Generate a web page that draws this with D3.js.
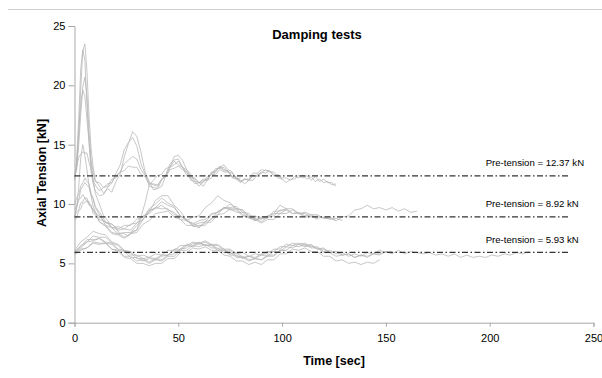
<!DOCTYPE html>
<html>
<head>
<meta charset="utf-8">
<script src="https://cdn.jsdelivr.net/npm/d3@7"></script>
<style>
  html, body { margin: 0; padding: 0; background: #fff; }
  svg { display: block; font-family: "Liberation Sans", Arial, sans-serif; }
</style>
</head>
<body>
<div id="chart"></div>
<script>
// pre-tension reference lines
const preTension = [12.37, 8.92, 5.93];
const preTensionLabels = ["Pre-tension = 12.37 kN", "Pre-tension = 8.92 kN", "Pre-tension = 5.93 kN"];
const xTicks = [0, 50, 100, 150, 200, 250];
const yTicks = [0, 5, 10, 15, 20, 25];

// high pre-tension tests (time in sec)
const tHigh = [0, 1, 2, 3, 4, 5, 6, 7, 8, 9, 10,
  12, 14, 16, 18, 20, 22, 24, 26, 28, 30,
  32, 34, 36, 38, 40, 42, 44, 46, 48, 50,
  52, 54, 56, 58, 60, 62, 64, 66, 68, 70,
  72, 74, 76, 78, 80, 82, 84, 86, 88, 90,
  92, 94, 96, 98, 100, 102, 104, 106, 108, 110,
  112, 114, 116, 118, 120, 122, 124, 126];
const high1 = [12.2, 13.1, 15.6, 19.7, 22.9, 23.5, 21.2, 17.4, 14.7, 13.1, 12.0,
  11.5, 10.9, 11.3, 11.0, 11.9, 12.5, 14.0, 15.1, 16.1, 15.7,
  14.4, 12.7, 11.9, 11.2, 11.3, 11.5, 12.4, 13.1, 14.0, 14.1,
  13.7, 12.9, 12.5, 11.9, 11.8, 11.5, 12.0, 12.2, 12.8, 13.1,
  13.3, 12.9, 12.7, 12.1, 12.0, 11.7, 12.0, 12.0, 12.5, 12.6,
  12.9, 12.7, 12.7, 12.2, 12.1, 11.8, 12.1, 12.1, 12.4, 12.2,
  12.4, 12.0, 12.3, 11.9, 12.1, 11.8, 11.8, 11.5];
const high2 = [12.0, 13.6, 17.1, 21.4, 23.0, 22.1, 18.4, 15.1, 12.7, 11.7, 11.1,
  10.7, 10.8, 11.4, 11.8, 12.6, 13.3, 14.6, 15.2, 15.6, 14.9,
  13.4, 12.5, 11.5, 11.4, 11.3, 12.0, 12.5, 13.4, 13.7, 13.8,
  13.1, 12.7, 12.0, 11.9, 11.5, 11.9, 12.1, 12.7, 12.8, 13.2,
  12.9, 12.8, 12.2, 12.1, 11.8, 12.1, 12.1, 12.6, 12.6, 12.9,
  12.8, 12.8, 12.4, 12.4, 12.1];
const high3 = [12.3, 12.8, 14.9, 17.5, 19.9, 20.7, 19.1, 16.1, 13.7, 12.7, 11.9,
  11.8, 11.4, 11.7, 11.8, 12.4, 12.7, 13.4, 13.7, 14.0, 13.8,
  12.9, 12.4, 11.8, 11.6, 11.5, 12.1, 12.4, 13.1, 13.3, 13.6,
  13.1, 12.9, 12.3, 12.2, 11.8, 12.0, 12.0, 12.6, 12.7, 13.1,
  12.8, 12.8, 12.3, 12.3, 11.9, 12.1, 12.0, 12.4, 12.4, 12.7,
  12.6, 12.8, 12.4, 12.5, 12.2, 12.2, 12.0, 12.3, 12.2, 12.4,
  12.1, 12.3, 11.9, 12.1, 11.8, 11.9, 11.6, 11.7];
const high4 = [12.4, 13.1, 13.9, 14.2, 14.4, 14.3, 14.3, 13.5, 12.9, 12.0, 11.6,
  11.1, 11.4, 11.5, 12.1, 12.2, 12.7, 12.8, 13.2, 13.1, 13.1,
  12.5, 12.3, 11.7, 11.7, 11.6, 12.1, 12.3, 12.9, 13.0, 13.2,
  12.9, 12.7, 12.2, 12.1, 11.8, 12.1, 12.1, 12.5, 12.5, 12.9,
  12.7, 12.7, 12.3, 12.2, 11.9, 12.1, 12.0, 12.4, 12.3, 12.6];
const high5 = [12.1, 13.4, 16.1, 18.4, 19.6, 19.1, 17.1, 15.3, 13.4, 12.1, 10.9,
  10.0, 9.0, 8.6, 8.0, 7.9, 7.5, 7.5, 7.3, 7.7, 7.8,
  8.9, 10.1, 11.6, 12.0, 12.4, 12.5, 13.0, 13.1, 13.6, 13.3,
  13.1, 12.4, 12.2, 11.7, 11.8, 11.8, 12.3, 12.5, 13.0, 13.0,
  13.1, 12.7, 12.6, 12.1, 12.2];

// medium pre-tension tests
const tMid = [0, 1, 2, 3, 4, 5, 6, 7, 8, 9, 10,
  12, 15, 18, 21, 24, 27, 30, 33, 36, 39,
  42, 45, 48, 51, 54, 57, 60, 63, 66, 69,
  72, 75, 78, 81, 84, 87, 90, 93, 96, 99,
  102, 105, 108, 111, 114, 117, 120, 123, 126, 129,
  132, 135, 138, 141, 144, 147, 150, 153, 156, 159,
  162, 165];
const mid1 = [9.0, 9.7, 10.3, 11.2, 11.5, 11.8, 11.6, 11.4, 10.7, 10.4, 9.7,
  9.1, 8.2, 8.0, 7.5, 7.6, 7.6, 8.2, 8.7, 9.6, 10.0,
  10.5, 10.1, 9.8, 9.0, 8.7, 8.2, 8.4, 8.5, 9.1, 9.3,
  9.7, 9.6, 9.6, 9.1, 8.9, 8.6, 8.9, 8.9, 9.4, 9.4,
  9.6, 9.2, 9.2, 8.9, 9.0, 8.7];
const mid2 = [8.8, 9.6, 11.4, 13.9, 15.0, 14.1, 12.9, 11.5, 10.7, 9.8, 9.4,
  8.5, 8.1, 7.5, 7.4, 7.1, 7.5, 7.8, 8.7, 9.3, 10.3,
  10.7, 10.7, 9.9, 9.4, 8.6, 8.4, 8.1, 8.5, 8.7, 9.4,
  9.6, 10.0, 9.6, 9.5, 8.9, 8.8, 8.5, 8.9, 9.0, 9.5,
  9.5];
const mid3 = [9.5, 9.8, 10.4, 10.5, 10.8, 10.5, 10.5, 10.0, 9.9, 9.4, 9.3,
  8.7, 8.5, 8.0, 8.1, 7.9, 8.3, 8.4, 9.0, 9.2, 9.7,
  9.6, 9.6, 9.1, 9.0, 8.6, 8.9, 9.0, 9.7, 10.1, 10.7,
  10.3, 10.1, 9.6, 9.5, 9.0, 9.0, 8.7, 9.0, 9.2, 9.9,
  9.6, 9.6, 9.2, 9.3, 9.1, 9.1, 8.8, 8.9, 8.6, 8.9,
  9.0, 9.5, 9.6, 9.9, 9.6, 9.7, 9.5, 9.7, 9.4, 9.6,
  9.3, 9.4];
const mid4 = [8.9, 9.3, 9.5, 10.1, 10.2, 10.5, 10.2, 10.2, 9.7, 9.6, 9.2,
  9.0, 8.4, 8.3, 7.9, 8.2, 8.2, 8.7, 8.9, 9.5, 9.6,
  9.9, 9.5, 9.3, 8.7, 8.6, 8.3, 8.6, 8.7, 9.2, 9.3,
  9.7, 9.5, 9.5, 9.0, 8.9, 8.6, 8.8, 8.8, 9.2, 9.2,
  9.5, 9.2, 9.3, 9.0, 9.1, 8.8, 8.9, 8.7, 8.8, 8.6];
const mid5 = [10.0, 10.5, 10.8, 11.5, 11.8, 12.2, 11.9, 11.7, 10.9, 10.5, 9.8,
  9.3, 8.5, 8.3, 7.8, 7.9, 7.8, 8.4, 8.7, 9.4, 9.7,
  10.2, 9.9, 9.7, 9.0, 8.7, 8.1, 8.2, 8.2, 8.8, 9.1,
  9.7, 9.7, 9.8, 9.3, 9.2, 8.7, 8.8];
const mid6 = [8.6, 8.8, 9.4, 9.6, 10.1, 10.1, 10.3, 9.9, 9.8, 9.2, 9.1,
  8.5, 8.2, 7.6, 7.5, 7.2, 7.5, 7.6, 8.3, 8.6, 9.2,
  9.3, 9.4, 8.9, 8.7, 8.2, 8.2, 8.0, 8.4, 8.5, 9.1,
  9.2, 9.6, 9.3, 9.3, 8.8, 8.7, 8.4, 8.7, 8.7, 9.2,
  9.2, 9.5, 9.2, 9.2, 8.9, 9.0, 8.8, 8.8, 8.6];

// low pre-tension tests
const tLow = [0, 3, 6, 9, 12, 15, 18, 21, 24, 27,
  30, 33, 36, 39, 42, 45, 48, 51, 54, 57,
  60, 63, 66, 69, 72, 75, 78, 81, 84, 87,
  90, 93, 96, 99, 102, 105, 108, 111, 114, 117,
  120, 123, 126, 129, 132, 135, 138, 141, 144, 147,
  150, 153, 156, 159, 162, 165, 168, 171, 174, 177,
  180, 183, 186, 189, 192, 195, 198, 201, 204, 207,
  210, 213, 216, 219];
const low1 = [5.9, 6.3, 6.8, 6.9, 7.1, 6.8, 6.7, 6.2, 6.1, 5.7,
  5.7, 5.4, 5.5, 5.4, 5.7, 5.7, 6.1, 6.1, 6.5, 6.4,
  6.7, 6.5, 6.6, 6.2, 6.2, 5.8, 5.9, 5.5, 5.6, 5.4,
  5.7, 5.6, 6.0, 6.0, 6.4, 6.3, 6.6, 6.4, 6.5, 6.2,
  6.3, 5.9, 6.0, 5.7, 5.8, 5.5, 5.7, 5.5, 5.8, 5.7,
  6.0, 5.8, 6.1, 5.8, 6.0, 5.9, 5.8, 5.9, 5.7, 5.8,
  5.6, 5.8, 5.5, 5.7, 5.5, 5.6, 5.5, 5.7, 5.6, 5.8,
  5.7, 5.9, 5.8, 6.0];
const low2 = [6.1, 6.8, 7.2, 7.7, 7.5, 7.4, 6.8, 6.6, 6.1, 6.0,
  5.6, 5.7, 5.5, 5.8, 5.7, 6.1, 6.1, 6.5, 6.5, 6.8,
  6.7, 6.9, 6.6, 6.6, 6.2, 6.2, 5.8, 5.9, 5.6, 5.8,
  5.7, 6.0, 6.0, 6.4, 6.4, 6.7, 6.6, 6.7, 6.4, 6.4,
  6.0, 6.1, 5.8, 5.9, 5.6, 5.8, 5.6, 5.9, 5.8, 6.1,
  5.9, 6.0];
const low3 = [5.8, 6.2, 6.3, 6.8, 6.7, 6.7, 6.2, 6.0, 5.5, 5.4,
  5.0, 5.0, 4.8, 5.0, 5.0, 5.4, 5.4, 5.9, 5.9, 6.3,
  6.2, 6.4, 6.1, 6.1, 5.7, 5.6, 5.2, 5.2, 4.9, 5.1,
  4.9, 5.3, 5.3, 5.8, 5.8, 6.2, 6.1, 6.3, 6.0, 6.0,
  5.6, 5.6, 5.2, 5.3, 5.0, 5.1, 4.9, 5.1, 5.0, 5.3];
const low4 = [5.9, 6.5, 6.8, 7.3, 7.2, 7.2, 6.7, 6.5, 6.0, 5.9,
  5.4, 5.4, 5.1, 5.4, 5.3, 5.7, 5.8, 6.2, 6.3, 6.7,
  6.6, 6.8, 6.5, 6.5, 6.1, 6.1, 5.6, 5.6, 5.3, 5.4,
  5.3, 5.6, 5.6, 6.1, 6.1, 6.5, 6.4, 6.6, 6.3, 6.3,
  5.9, 5.9, 5.6, 5.7];
const low5 = [6.0, 6.4, 7.0, 7.0, 7.1, 6.7, 6.6, 6.1, 6.0, 5.5,
  5.5, 5.2, 5.4, 5.3, 5.6, 5.7, 6.2, 6.2, 6.6, 6.5,
  6.8, 6.5, 6.5, 6.1, 6.1, 5.7, 5.7, 5.4, 5.6, 5.5,
  5.8, 5.8, 6.2, 6.2, 6.6, 6.5, 6.7, 6.5, 6.6, 6.2,
  6.2, 5.9, 6.0, 5.7, 5.8, 5.5, 5.7, 5.6, 5.8, 5.8,
  6.0, 5.9];
const low6 = [5.7, 6.1, 6.3, 6.7, 6.6, 6.7, 6.2, 6.1, 5.6, 5.6,
  5.2, 5.3, 5.0, 5.3, 5.2, 5.6, 5.6, 6.1, 6.1, 6.5,
  6.4, 6.6, 6.3, 6.3, 5.9, 5.9, 5.5, 5.5, 5.2, 5.4,
  5.3, 5.7, 5.7, 6.1, 6.1];

const width = 602, height = 378;
const margin = {left: 74.5, right: 8.5, top: 26, bottom: 55.3};

const svg = d3.select("#chart").append("svg")
  .attr("width", width)
  .attr("height", height);

// thin frame line at the top of the picture
svg.append("line")
  .attr("x1", 8).attr("x2", width)
  .attr("y1", 9.5).attr("y2", 9.5)
  .attr("stroke", "#d0d0d0")
  .attr("stroke-width", 1);

const x = d3.scaleLinear().domain([0, 250]).range([margin.left, width - margin.right]);
const y = d3.scaleLinear().domain([0, 25]).range([height - margin.bottom, margin.top]);

// axes
const xAxis = svg.append("g")
  .attr("transform", "translate(0," + y(0) + ")")
  .call(d3.axisBottom(x).tickValues(xTicks).tickSize(4).tickPadding(8));
const yAxis = svg.append("g")
  .attr("transform", "translate(" + x(0) + ",0)")
  .call(d3.axisLeft(y).tickValues(yTicks).tickSize(6).tickPadding(3));

[xAxis, yAxis].forEach(a => {
  a.select(".domain").attr("stroke", "#a8a8a8");
  a.selectAll(".tick line").attr("stroke", "#a8a8a8");
  a.selectAll(".tick text")
    .style("font-size", "11px")
    .style("font-family", "'Liberation Sans', Arial, sans-serif")
    .attr("fill", "#000");
});

// test curves
const line = d3.line()
  .x(d => x(d[0]))
  .y(d => y(d[1]));

const curves = [];
[high1, high2, high3, high4, high5].forEach(v => curves.push(v.map((d, i) => [tHigh[i], d])));
[mid1, mid2, mid3, mid4, mid5, mid6].forEach(v => curves.push(v.map((d, i) => [tMid[i], d])));
[low1, low2, low3, low4, low5, low6].forEach(v => curves.push(v.map((d, i) => [tLow[i], d])));

svg.append("g")
  .selectAll("path")
  .data(curves)
  .enter()
  .append("path")
  .attr("fill", "none")
  .attr("stroke", "#b4b4b4")
  .attr("stroke-width", 0.75)
  .attr("d", line);

// pre-tension lines
svg.append("g")
  .selectAll("line")
  .data(preTension)
  .enter()
  .append("line")
  .attr("x1", x(0))
  .attr("x2", x(238))
  .attr("y1", d => y(d))
  .attr("y2", d => y(d))
  .attr("stroke", "#333")
  .attr("stroke-width", 1.3)
  .attr("stroke-dasharray", "6,2.5,1.5,2.5");

svg.append("g")
  .selectAll("text")
  .data(preTension)
  .enter()
  .append("text")
  .attr("x", 485.7)
  .attr("y", d => y(d) - 9.5)
  .style("font-size", "9.6px")
  .attr("fill", "#000")
  .text((d, i) => preTensionLabels[i]);

// title and axis labels
svg.append("text")
  .attr("x", 317)
  .attr("y", 38.5)
  .attr("text-anchor", "middle")
  .style("font-size", "13px")
  .style("font-weight", "bold")
  .text("Damping tests");

svg.append("text")
  .attr("x", 334)
  .attr("y", 364.5)
  .attr("text-anchor", "middle")
  .style("font-size", "12.5px")
  .style("font-weight", "bold")
  .text("Time [sec]");

svg.append("text")
  .attr("transform", "translate(46," + 173 + ")rotate(-90)")
  .attr("text-anchor", "middle")
  .style("font-size", "12.5px")
  .style("font-weight", "bold")
  .text("Axial Tension [kN]");
</script>
</body>
</html>
